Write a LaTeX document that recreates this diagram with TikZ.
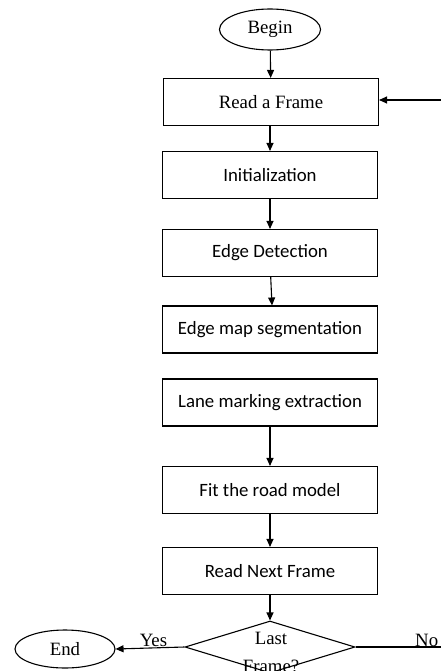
\documentclass[tikz,border=0pt]{standalone}
\usepackage{fontspec}
\setmainfont{Liberation Serif}
\newfontfamily\calib{Carlito}
\usetikzlibrary{shapes.geometric,arrows.meta}
\begin{document}
\begin{tikzpicture}[x=1pt,y=-1pt,
  every node/.style={inner sep=0pt},
  proc/.style={draw, line width=1.1pt, minimum width=215pt, minimum height=47pt, font=\calib\fontsize{18.8}{22}\selectfont},
  procs/.style={draw, line width=1.1pt, minimum width=215pt, minimum height=47pt, font=\fontsize{18.8}{22}\selectfont},
  term/.style={draw, ellipse, line width=1.1pt, font=\fontsize{18.8}{22}\selectfont},
  conn/.style={line width=1.1pt, -{Triangle[length=8pt,width=7pt]}},
  lbl/.style={font=\fontsize{18.8}{22}\selectfont}]
\useasboundingbox (0,0) rectangle (441,671);
\node[term, minimum width=101pt, minimum height=41pt] (begin) at (270,29.5) {Begin};
\node[procs] (read) at (271,102) {Read a Frame};
\node[proc] (init) at (270,175) {Initialization};
\node[proc] (edge) at (270,253) {Edge Detection};
\node[proc] (seg) at (270,329.5) {Edge map segmentation};
\node[proc] (lane) at (270,402.5) {Lane marking extraction};
\node[proc] (fit) at (270,490) {Fit the road model};
\node[proc] (next) at (270,571) {Read Next Frame};
\node[draw, diamond, line width=1.1pt, minimum width=170pt, minimum height=52pt] (last) at (270,647) {};
\node[lbl, align=center, font=\fontsize{18.8}{27.5}\selectfont] (lasttxt) at (271,652.5) {Last\\Frame?};
\node[term, minimum width=100pt, minimum height=38pt] (end) at (65,649) {End};
\coordinate (noend) at (441,647);
\coordinate (backin) at (441,100);
\draw[conn] (begin) -- (read);
\draw[conn] (read.south -| init) -- (init);
\draw[conn] (init) -- (edge);
\draw[conn] ([xshift=0.7pt]edge.south) -- ([xshift=2pt]seg.north);
\draw[conn] (lane) -- (fit);
\draw[conn] (fit) -- (next);
\draw[conn] (next) -- (last);
\draw[conn] (last.west) -- node[lbl, above, pos=0.45, yshift=1pt] (yes) {Yes} (end.east);
\draw[line width=1.1pt] (last.east) -- (noend);
\node[lbl, anchor=base west] (no) at (415,646) {No};
\draw[conn] (backin) -- (read.east |- backin);
\end{tikzpicture}
\end{document}
